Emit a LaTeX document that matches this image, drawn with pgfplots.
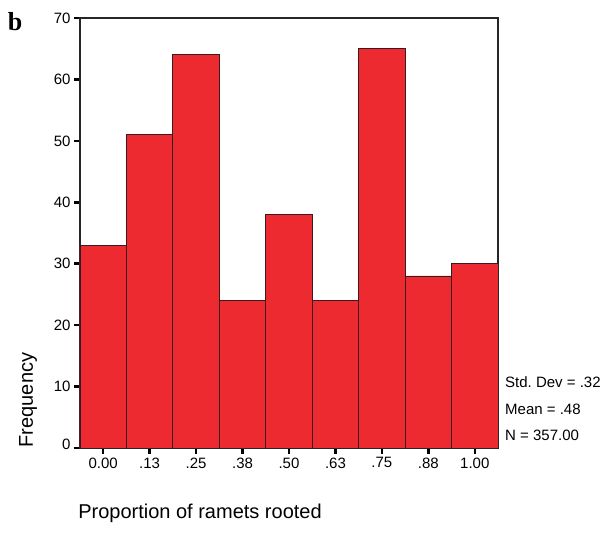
\documentclass[border=0pt]{standalone}
\usepackage{fontspec}
\setmainfont{Liberation Sans}
\newfontfamily\serifb{Liberation Serif}
\usepackage{pgfplots}
\pgfplotsset{compat=1.18}
\definecolor{barred}{HTML}{EC2A2F}
\definecolor{baredge}{HTML}{3A1A1C}
\frenchspacing
\begin{document}
\begin{tikzpicture}
\path[use as bounding box] (-80pt,-86pt) rectangle (525pt,448pt);
\begin{axis}[
  at={(0,0)}, anchor=south west, scale only axis,
  width=418pt, height=430pt,
  xmin=-0.5, xmax=8.5, ymin=0, ymax=70,
  enlargelimits=false,
  xtick={0,1,2,3,4,5,6,7,8},
  xticklabels={0.00,.13,.25,.38,.50,.63,.75,.88,1.00},
  ytick={0,10,20,30,40,50,60,70},
  yticklabels={\raisebox{8pt}{0},10,20,30,40,50,60,70},
  tick pos=left,
  tick align=outside,
  major tick length=6pt,
  tick style={line width=2.5pt, black},
  axis line style={line width=1.4pt, black!85},
  ticklabel style={font=\fontsize{15}{17}\selectfont},
  /pgf/number format/assume math mode=true,
  ybar, bar width=1, bar shift=0,
]
\addplot[fill=barred, draw=baredge, line width=0.9pt] coordinates {
  (0,33) (1,51) (2,64) (3,24) (4,38) (5,24) (6,65) (7,28) (8,30)
};
\end{axis}
\node[rotate=90, font=\fontsize{20}{22}\selectfont] at (-52pt,48pt) {Frequency};
\node[font=\fontsize{20}{22}\selectfont] at (120pt,-65pt) {Proportion of ramets rooted};
\node[anchor=west, font=\fontsize{15}{17}\selectfont, inner sep=0pt] at (425pt,66pt) {Std. Dev = .32};
\node[anchor=west, font=\fontsize{15}{17}\selectfont, inner sep=0pt] at (425pt,39pt) {Mean = .48};
\node[anchor=west, font=\fontsize{15}{17}\selectfont, inner sep=0pt] at (425pt,13pt) {N = 357.00};
\node[font=\serifb\bfseries\fontsize{26}{28}\selectfont] at (-65pt,426pt) {b};
\end{tikzpicture}
\end{document}
